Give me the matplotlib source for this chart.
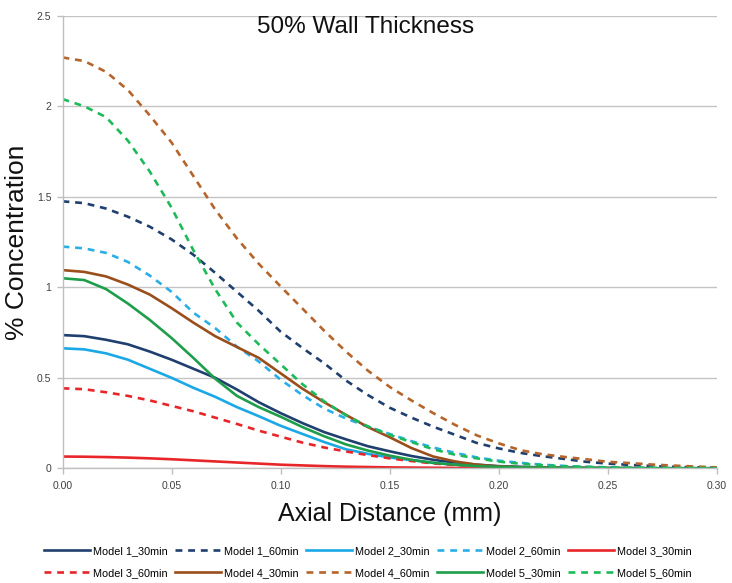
import matplotlib
matplotlib.use("Agg")
import matplotlib.pyplot as plt
import numpy as np

x = [0.00, 0.01, 0.02, 0.03, 0.04, 0.05, 0.06, 0.07, 0.08, 0.09, 0.10,
     0.11, 0.12, 0.13, 0.14, 0.15, 0.16, 0.17, 0.18, 0.19, 0.20,
     0.21, 0.22, 0.23, 0.24, 0.25, 0.26, 0.27, 0.28, 0.29, 0.30]

model1_30 = [0.736, 0.730, 0.710, 0.685, 0.645, 0.600, 0.550, 0.500, 0.435, 0.365, 0.305,
             0.250, 0.200, 0.160, 0.122, 0.094, 0.068, 0.047, 0.031, 0.020, 0.012,
             0.008, 0.005, 0.003, 0.002, 0.001, 0.001, 0.000, 0.000, 0.000, 0.000]
model1_60 = [1.475, 1.465, 1.435, 1.390, 1.335, 1.265, 1.180, 1.080, 0.975, 0.870, 0.755,
             0.665, 0.580, 0.485, 0.405, 0.335, 0.280, 0.230, 0.185, 0.140, 0.110,
             0.085, 0.067, 0.052, 0.036, 0.026, 0.019, 0.013, 0.008, 0.005, 0.003]
model2_30 = [0.663, 0.657, 0.635, 0.600, 0.550, 0.500, 0.445, 0.395, 0.338, 0.288, 0.235,
             0.190, 0.145, 0.105, 0.080, 0.060, 0.045, 0.030, 0.020, 0.013, 0.008,
             0.005, 0.003, 0.002, 0.001, 0.001, 0.000, 0.000, 0.000, 0.000, 0.000]
model2_60 = [1.225, 1.215, 1.190, 1.140, 1.065, 0.975, 0.860, 0.775, 0.672, 0.590, 0.490,
             0.405, 0.330, 0.275, 0.230, 0.190, 0.150, 0.115, 0.085, 0.060, 0.042,
             0.030, 0.020, 0.013, 0.008, 0.005, 0.003, 0.002, 0.001, 0.001, 0.000]
model3_30 = [0.065, 0.064, 0.062, 0.059, 0.055, 0.050, 0.044, 0.038, 0.032, 0.026, 0.020,
             0.016, 0.012, 0.009, 0.007, 0.005, 0.004, 0.003, 0.002, 0.001, 0.001,
             0.000, 0.000, 0.000, 0.000, 0.000, 0.000, 0.000, 0.000, 0.000, 0.000]
model3_60 = [0.442, 0.437, 0.420, 0.400, 0.375, 0.345, 0.315, 0.280, 0.245, 0.208, 0.175,
             0.142, 0.115, 0.093, 0.073, 0.055, 0.040, 0.027, 0.018, 0.012, 0.008,
             0.005, 0.003, 0.002, 0.001, 0.001, 0.000, 0.000, 0.000, 0.000, 0.000]
model4_30 = [1.095, 1.085, 1.060, 1.015, 0.960, 0.885, 0.805, 0.730, 0.670, 0.610, 0.525,
             0.440, 0.365, 0.295, 0.228, 0.172, 0.112, 0.065, 0.038, 0.020, 0.010,
             0.006, 0.004, 0.003, 0.002, 0.001, 0.001, 0.000, 0.000, 0.000, 0.000]
model4_60 = [2.270, 2.250, 2.190, 2.090, 1.950, 1.800, 1.615, 1.430, 1.270, 1.130, 1.005,
             0.883, 0.760, 0.645, 0.540, 0.450, 0.375, 0.305, 0.240, 0.182, 0.138,
             0.100, 0.078, 0.063, 0.050, 0.036, 0.029, 0.021, 0.015, 0.010, 0.005]
model5_30 = [1.050, 1.040, 0.990, 0.910, 0.820, 0.720, 0.610, 0.495, 0.400, 0.338, 0.285,
             0.228, 0.177, 0.132, 0.098, 0.070, 0.047, 0.030, 0.020, 0.012, 0.008,
             0.005, 0.003, 0.002, 0.001, 0.001, 0.000, 0.000, 0.000, 0.000, 0.000]
model5_60 = [2.040, 2.000, 1.940, 1.810, 1.640, 1.440, 1.205, 0.990, 0.805, 0.685, 0.575,
             0.465, 0.370, 0.292, 0.232, 0.185, 0.145, 0.105, 0.075, 0.055, 0.037,
             0.025, 0.017, 0.011, 0.008, 0.005, 0.004, 0.003, 0.002, 0.002, 0.001]

labels = ["Model 1_30min", "Model 1_60min", "Model 2_30min", "Model 2_60min",
          "Model 3_30min", "Model 3_60min", "Model 4_30min", "Model 4_60min",
          "Model 5_30min", "Model 5_60min"]
series = [model1_30, model1_60, model2_30, model2_60, model3_30,
          model3_60, model4_30, model4_60, model5_30, model5_60]
colors = ["#1F3F6E", "#1F3F6E", "#1BA8E6", "#2AAEE8", "#E8262A",
          "#E8262A", "#9A4E1C", "#B5652B", "#1E9E4A", "#1DBA5A"]
dashed = [False, True, False, True, False, True, False, True, False, True]

xticks = [0.00, 0.05, 0.10, 0.15, 0.20, 0.25, 0.30]
yticks = [0, 0.5, 1, 1.5, 2, 2.5]
ytick_labels = ["0", "0.5", "1", "1.5", "2", "2.5"]

plt.rcParams['font.family'] = ['Liberation Sans', 'DejaVu Sans']

fig = plt.figure(figsize=(7.32, 5.83), dpi=100)
ax = fig.add_axes([62.5 / 732, 1 - 468.3 / 583, (716.7 - 62.5) / 732, (468.3 - 15.8) / 583])

handles = []
for s, c, d, lab in zip(series, colors, dashed, labels):
    if d:
        h, = ax.plot(x, s, color=c, lw=1.9, linestyle=(0, (2.6, 2.2)), label=lab,
                     dash_capstyle='butt', dash_joinstyle='round')
    else:
        h, = ax.plot(x, s, color=c, lw=1.9, linestyle='-', label=lab,
                     solid_joinstyle='round')
    handles.append(h)

ax.set_xlim(0, 0.30)
ax.set_ylim(0, 2.5)
ax.set_xticks(xticks)
ax.set_xticklabels([f"{v:.2f}" for v in xticks])
ax.set_yticks(yticks)
ax.set_yticklabels(ytick_labels)
ax.yaxis.grid(True, color="#C4C4C4", lw=1.0)
ax.set_axisbelow(True)
for sp in ["top", "right"]:
    ax.spines[sp].set_visible(False)
for sp in ["left", "bottom"]:
    ax.spines[sp].set_color("#BFBFBF")
    ax.spines[sp].set_linewidth(1.0)
ax.tick_params(axis='both', colors="#BFBFBF", labelcolor="#404040", labelsize=7.5, length=4, width=1)
ax.tick_params(axis='x', pad=5)
ax.tick_params(axis='y', pad=4)

ax.set_xlabel("Axial Distance (mm)", fontsize=18, labelpad=8, color="#111111")
fig.text(17 / 732, 1 - 242 / 583, "% Concentration", rotation=90, ha='center', va='center',
         fontsize=19, color="#111111")
fig.text(366 / 732, 1 - 27 / 583, "50% Wall Thickness", ha='center', va='center',
         fontsize=17.5, color="#111111")

order = [0, 5, 1, 6, 2, 7, 3, 8, 4, 9]
leg = fig.legend([handles[i] for i in order], [labels[i] for i in order],
                 loc='center', bbox_to_anchor=(368 / 732, 1 - 562 / 583), ncol=5,
                 frameon=False, fontsize=7.8, handlelength=4.2, handletextpad=0.3,
                 columnspacing=0.7, labelspacing=1.1)

fig.savefig("out.png", dpi=100)
